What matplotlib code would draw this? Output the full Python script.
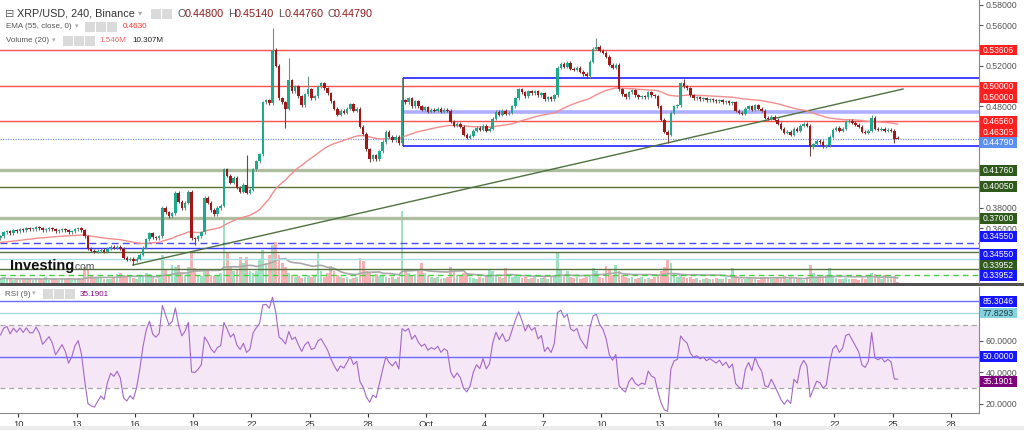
import numpy as np
import pandas as pd
import matplotlib
matplotlib.use('Agg')
import matplotlib.pyplot as plt
from matplotlib.patches import Rectangle
from matplotlib.ticker import FormatStrFormatter
from matplotlib.transforms import blended_transform_factory

plt.rcParams['font.family'] = ['Liberation Sans', 'DejaVu Sans']

# ---- data (4h candles, XRP/USD, from Sep 9 00:00) ----
first_day = 9.0          # Sep 9 (x axis counts Sep days, Oct 1 = 31)
first_open = 0.350

closes = [
    0.352, 0.356, 0.357, 0.355, 0.358, 0.357, 0.359, 0.358, 0.360, 0.359,
    0.359, 0.361, 0.360, 0.358, 0.359, 0.360, 0.359, 0.357, 0.358, 0.359,
    0.358, 0.356, 0.357, 0.359, 0.360, 0.358, 0.352, 0.340, 0.338, 0.337,
    0.338, 0.339, 0.337, 0.340, 0.342, 0.341, 0.342, 0.340, 0.331, 0.329,
    0.330, 0.328, 0.330, 0.334, 0.341, 0.349, 0.355, 0.351, 0.350, 0.352,
    0.380, 0.376, 0.372, 0.375, 0.395, 0.386, 0.380, 0.385, 0.396, 0.350,
    0.349, 0.352, 0.356, 0.390, 0.385, 0.378, 0.374, 0.380, 0.382, 0.418,
    0.412, 0.405, 0.410, 0.400, 0.396, 0.403, 0.395, 0.398, 0.418, 0.426,
    0.433, 0.484, 0.486, 0.483, 0.536, 0.520, 0.488, 0.484, 0.478, 0.506,
    0.495, 0.500, 0.490, 0.481, 0.492, 0.497, 0.488, 0.490, 0.500, 0.503,
    0.498, 0.493, 0.485, 0.478, 0.472, 0.476, 0.474, 0.478, 0.482, 0.476,
    0.478, 0.460, 0.453, 0.438, 0.428, 0.432, 0.428, 0.436, 0.445, 0.455,
    0.450, 0.447, 0.450, 0.444, 0.486, 0.484, 0.488, 0.480, 0.485, 0.480,
    0.477, 0.479, 0.475, 0.477, 0.476, 0.478, 0.475, 0.477, 0.476, 0.465,
    0.461, 0.463, 0.460, 0.452, 0.449, 0.451, 0.456, 0.459, 0.457, 0.461,
    0.456, 0.458, 0.468, 0.475, 0.472, 0.476, 0.473, 0.474, 0.480, 0.488,
    0.497, 0.494, 0.490, 0.495, 0.493, 0.495, 0.491, 0.493, 0.487, 0.489,
    0.487, 0.491, 0.518, 0.522, 0.519, 0.523, 0.517, 0.516, 0.518, 0.514,
    0.512, 0.510, 0.524, 0.537, 0.539, 0.535, 0.533, 0.529, 0.521, 0.518,
    0.521, 0.497, 0.492, 0.489, 0.494, 0.496, 0.491, 0.489, 0.490, 0.489,
    0.494, 0.491, 0.490, 0.480, 0.467, 0.455, 0.452, 0.474, 0.480, 0.481,
    0.503, 0.500, 0.498, 0.491, 0.488, 0.489, 0.487, 0.488, 0.486, 0.487,
    0.486, 0.485, 0.486, 0.484, 0.485, 0.483, 0.484, 0.476, 0.474, 0.473,
    0.478, 0.480, 0.477, 0.481, 0.478, 0.476, 0.469, 0.468, 0.470, 0.467,
    0.463, 0.458, 0.454, 0.455, 0.452, 0.458, 0.456, 0.461, 0.463, 0.461,
    0.440, 0.443, 0.446, 0.445, 0.441, 0.442, 0.450, 0.457, 0.459, 0.456,
    0.458, 0.465, 0.466, 0.464, 0.462, 0.460, 0.455, 0.454, 0.456, 0.469,
    0.458, 0.457, 0.458, 0.456, 0.457, 0.456, 0.448, 0.4479,
]

volumes = [  # millions
    10, 14, 9, 12, 8, 11, 7, 13, 9, 10,
    8, 12, 10, 9, 14, 7, 9, 11, 8, 10,
    9, 12, 8, 10, 13, 11, 40, 35, 20, 15,
    12, 14, 10, 11, 9, 13, 22, 25, 20, 18,
    15, 12, 10, 16, 20, 25, 22, 14, 10, 12,
    70, 35, 20, 45, 40, 45, 25, 20, 40, 75,
    37, 20, 18, 32, 30, 20, 18, 20, 25, 158,
    75, 40, 30, 35, 65, 50, 65, 30, 25, 30,
    60, 82, 50, 70, 95, 102, 70, 50, 40, 25,
    20, 15, 18, 12, 15, 20, 14, 18, 75, 30,
    15, 25, 42, 30, 20, 15, 12, 14, 10, 12,
    15, 62, 55, 30, 25, 20, 22, 18, 20, 15,
    12, 15, 10, 14, 180, 35, 25, 20, 22, 30,
    50, 25, 18, 15, 12, 14, 10, 12, 15, 40,
    30, 20, 18, 25, 22, 15, 12, 10, 14, 12,
    18, 33, 30, 20, 15, 12, 37, 20, 15, 18,
    14, 12, 15, 10, 12, 14, 11, 12, 15, 10,
    15, 20, 75, 35, 20, 30, 15, 12, 14, 10,
    12, 15, 20, 37, 30, 15, 12, 42, 35, 20,
    45, 30, 20, 15, 12, 14, 10, 12, 15, 10,
    12, 10, 15, 20, 30, 40, 60, 50, 25, 15,
    20, 15, 12, 14, 10, 12, 8, 10, 12, 9,
    10, 12, 9, 11, 14, 10, 37, 20, 12, 10,
    10, 12, 9, 11, 8, 14, 15, 12, 10, 9,
    12, 15, 18, 10, 12, 9, 11, 10, 8, 15,
    45, 25, 15, 12, 14, 20, 37, 20, 12, 10,
    10, 12, 9, 11, 10, 8, 12, 10, 15, 25,
    22, 12, 10, 20, 15, 12, 18, 1.546,
]

# long wicks (candle index -> price)
highs_marked = {76: 0.432, 84: 0.557, 89: 0.528, 95: 0.510, 124: 0.508,
                184: 0.547, 211: 0.5075, 269: 0.4715, 277: 0.4514}
lows_marked = {41: 0.324, 60: 0.344, 88: 0.459, 114: 0.425, 206: 0.444,
               250: 0.431, 276: 0.4445, 277: 0.4476}

ema_seed = 0.346            # EMA(55) at the first visible candle
rsi_seed_gain = 0.0024      # RSI(9) smoothed gain / loss at the first candle
rsi_seed_loss = 0.0015

# horizontal levels
red_levels = [0.53606, 0.50000, 0.46560]
box_start_day = 29.78
box_top, box_mid, box_bottom = 0.5078, 0.4749, 0.4411
last_price = 0.4479
olive_levels = [0.4176, 0.3700]
dkgreen_levels = [0.4005, 0.3367, 0.3200]
blue_dash_level = 0.3455
blue_level = 0.3406
cyan_level = 0.3298
green_dash_level = 0.3140
trend_days = [15.90, 55.53]
trend_prices = [0.3238, 0.4972]

price_ticks = [0.36, 0.38, 0.48, 0.52, 0.56, 0.58]

# right-hand price labels: text, colour, position (price)
price_labels = ['0.53606', '0.50000', '0.50000', '0.46560', '0.46305', '0.44790',
                '0.41760', '0.40050', '0.37000', '0.34550', '0.34550', '0.33952', '0.33952']
price_label_colors = ['#ff1f1f', '#ff1f1f', '#ff1f1f', '#ff1f1f', '#ff1f1f', '#5b8ff0',
                      '#2f5a1c', '#2f5a1c', '#2f5a1c', '#1515ff', '#1515ff', '#2f5a1c', '#1515ff']
price_label_at = [0.5356, 0.4993, 0.4889, 0.4650, 0.4544, 0.4443,
                  0.4168, 0.4011, 0.3698, 0.3517, 0.3342, 0.3234, 0.3133]

rsi_labels = ['85.3046', '77.8293', '50.0000', '35.1901']
rsi_label_at = [85.3046, 77.8293, 50.0, 34.3]
rsi_label_colors = ['#1515ff', '#86d3e0', '#1515ff', '#7d007d']
rsi_label_text = ['white', '#1a3a40', 'white', 'white']

xtick_days = [10, 13, 16, 19, 22, 25, 28, 31, 34, 37, 40, 43, 46, 49, 52, 55, 58]
xtick_labels = ['10', '13', '16', '19', '22', '25', '28', 'Oct', '4', '7', '10',
                '13', '16', '19', '22', '25', '28']

# ---- derived series ----
n = len(closes)
c = np.array(closes)
o = np.array([first_open] + closes[:-1])
days = first_day + (np.arange(n) + 0.5) / 6.0
wick = 0.0015
hi = np.maximum(o, c) + wick
lo = np.minimum(o, c) - wick
for k, v in highs_marked.items():
    hi[k] = v
for k, v in lows_marked.items():
    lo[k] = v
up = c >= o

alpha = 2.0 / 56
ema = [ema_seed]
for v in c[1:]:
    ema.append(ema[-1] + alpha * (v - ema[-1]))

vol = np.array(volumes)
vol_ma = pd.Series(vol).rolling(20, min_periods=1).mean()

ag, al = rsi_seed_gain, rsi_seed_loss
rsi = []
prev = first_open
for v in c:
    d = v - prev
    prev = v
    ag = ag + (max(d, 0) - ag) / 9
    al = al + (max(-d, 0) - al) / 9
    rsi.append(100 - 100 / (1 + ag / max(al, 1e-9)))

# ---- figure ----
W, H = 1024, 430
fig = plt.figure(figsize=(10.24, 4.3), dpi=100)
fig.patch.set_facecolor('white')


def fx(x):
    return x / W


def fy(y):
    return 1 - y / H


xlim = (9.058, 59.44)
price_lim = (0.3061, 0.5849)
rsi_lim = (14.1, 94.4)

ax = fig.add_axes([0, fy(283), fx(979), 283 / H])
axv = ax.twinx()
ax.set_zorder(axv.get_zorder() + 1)
ax.patch.set_visible(False)

ax.set_xlim(*xlim)
ax.set_ylim(*price_lim)
axv.set_ylim(0, 707)

# volume
axv.bar(days, vol, width=0.14, color=np.where(up, '#9fe2c2', '#f6b2b2'), lw=0)
axv.plot(days, vol_ma, color='#a9a9a9', lw=1.2)
axv.set_yticks([])
for s in axv.spines.values():
    s.set_visible(False)

# levels
for lv in red_levels:
    ax.axhline(lv, color='#ff5050', lw=1, zorder=1)
for lv in olive_levels:
    ax.axhline(lv, color='#aebd9f', lw=2.4, zorder=1)
for lv in dkgreen_levels:
    ax.axhline(lv, color='#56713f', lw=1, zorder=1)
ax.axhline(blue_dash_level, color='#4a4aff', lw=1, dashes=(5, 3), zorder=1)
ax.axhline(blue_level, color='#3a3aff', lw=1, zorder=1)
ax.axhline(cyan_level, color='#a8dde6', lw=1, zorder=1)
ax.axhline(green_dash_level, color='#44cc44', lw=1, dashes=(4, 3), zorder=1)
ax.axhline(last_price, color='#7b96e6', lw=0.9, ls=(0, (1, 1)), zorder=1)
ax.hlines([box_top, box_bottom], box_start_day, xlim[1], color='#3030ff', lw=1.3, zorder=1)
ax.hlines(box_mid, box_start_day, xlim[1], color='#9a9aff', lw=2.6, alpha=0.8, zorder=1)
ax.vlines(box_start_day, box_bottom, box_top, color='#3030ff', lw=1.2, zorder=1)
ax.plot(trend_days, trend_prices, color='#4f7340', lw=1, zorder=1.5)

# EMA
ax.plot(days, ema, color='#f28d8d', lw=1, zorder=2)

# candles
ax.vlines(days, lo, hi, colors=np.where(up, '#6f8f80', '#6d4646'), lw=0.8, zorder=3)
body = np.maximum(np.abs(c - o), 0.0009)
ax.bar(days, body, bottom=np.minimum(o, c), width=0.13,
       color=np.where(up, '#1ea88c', '#a01818'), lw=0, zorder=4)

ax.yaxis.tick_right()
ax.set_yticks(price_ticks)
ax.yaxis.set_major_formatter(FormatStrFormatter('%.5f'))
ax.tick_params(axis='y', right=True, left=False, labelright=True, labelleft=False,
               labelsize=6.3, colors='#555555', length=3, pad=2)
ax.tick_params(axis='x', bottom=False, labelbottom=False)
for k in ['top', 'left', 'bottom']:
    ax.spines[k].set_visible(False)
ax.spines['right'].set_color('#8a8a8a')


def axis_labels(axis, texts, colors, at, tcolors, span):
    tr = blended_transform_factory(fig.transFigure, axis.transData)
    box_h = 10.5 * (span[1] - span[0]) / (axis.get_position().height * H)
    for t, col, pos, tc in zip(texts, colors, at, tcolors):
        axis.add_patch(Rectangle((fx(979.5), pos - box_h / 2), fx(37), box_h,
                                 transform=tr, facecolor=col, edgecolor='none',
                                 zorder=9, clip_on=False))
        axis.text(fx(998), pos, t, transform=tr, fontsize=6.2, color=tc,
                  va='center', ha='center', zorder=10, clip_on=False)


axis_labels(ax, price_labels, price_label_colors, price_label_at,
            ['white'] * len(price_labels), price_lim)

# ---- RSI panel ----
axr = fig.add_axes([0, fy(413), fx(979), 126 / H])
axr.set_xlim(*xlim)
axr.set_ylim(*rsi_lim)
axr.axhspan(30, 70, color='#f5e7f5', lw=0)
axr.axhline(70, color='#a8a8a8', lw=0.9, dashes=(4, 3))
axr.axhline(30, color='#a8a8a8', lw=0.9, dashes=(4, 3))
axr.axhline(85.3046, color='#6b6bff', lw=1)
axr.axhline(77.8293, color='#a5dbe6', lw=1)
axr.axhline(50, color='#6b6bff', lw=1)
axr.plot(days, rsi, color='#a468c8', lw=0.8)
axr.yaxis.tick_right()
axr.set_yticks([20, 40, 60])
axr.yaxis.set_major_formatter(FormatStrFormatter('%.4f'))
axr.tick_params(axis='y', right=True, left=False, labelright=True, labelleft=False,
                labelsize=6.3, colors='#555555', length=3, pad=2)
axr.set_xticks(xtick_days)
axr.set_xticklabels(xtick_labels)
axr.tick_params(axis='x', labelsize=6.8, colors='#333333', length=3, pad=2)
for k in ['top', 'left']:
    axr.spines[k].set_visible(False)
axr.spines['right'].set_color('#8a8a8a')
axr.spines['bottom'].set_color('#8a8a8a')

axis_labels(axr, rsi_labels, rsi_label_colors, rsi_label_at, rsi_label_text, rsi_lim)

# separator and bottom strip
fig.add_artist(Rectangle((0, fy(285.5)), 1, 3 / H, transform=fig.transFigure,
                         color='#505050', lw=0))
fig.add_artist(Rectangle((0, 0), 1, 4 / H, transform=fig.transFigure,
                         color='#ececec', lw=0))

# ---- header texts ----


def txt(x, y, s, size, color, weight='normal'):
    fig.text(fx(x), fy(y), s, fontsize=size, color=color, va='center', ha='left',
             fontweight=weight)


def icons(x, y, count):
    for k in range(count):
        fig.add_artist(Rectangle((fx(x + k * 11), fy(y + 5)), 9.5 / W, 10 / H,
                                 transform=fig.transFigure, color='#dadada', lw=0))


txt(5, 14, '⊟', 8, '#666666')
txt(17, 14, 'XRP/USD, 240, Binance', 7.8, '#333333')
txt(138, 14, '▾', 6, '#aaaaaa')
icons(151, 14, 2)
for x0, letter, val in [(178, 'O', '0.44800'), (228, 'H', '0.45140'),
                        (278, 'L', '0.44760'), (327, 'C', '0.44790')]:
    txt(x0, 14, letter, 7.8, '#555555')
    txt(x0 + 7, 14, val, 7.8, '#8e1b1b')

txt(6, 27, 'EMA (55, close, 0)', 5.8, '#555555')
txt(75, 27, '▾', 5, '#aaaaaa')
icons(85, 27, 3)
txt(123, 27, '0.4630', 5.8, '#ff3030')

txt(6, 41, 'Volume (20)', 5.8, '#555555')
txt(52, 41, '▾', 5, '#aaaaaa')
icons(63, 41, 3)
txt(99, 41, '1.546M', 5.8, '#f06a6a')
txt(132, 41, '10.307M', 5.8, '#222222')

txt(5, 294, 'RSI (9)', 5.8, '#555555')
txt(32, 294, '▾', 5, '#aaaaaa')
icons(43, 294, 3)
txt(80, 294, '35.1901', 5.8, '#800080')

# logo
txt(10, 266, 'Investing', 10.5, '#111111', 'bold')
txt(72, 267, '.com', 7.5, '#555555')

fig.savefig('out.png', dpi=100, facecolor='white')
